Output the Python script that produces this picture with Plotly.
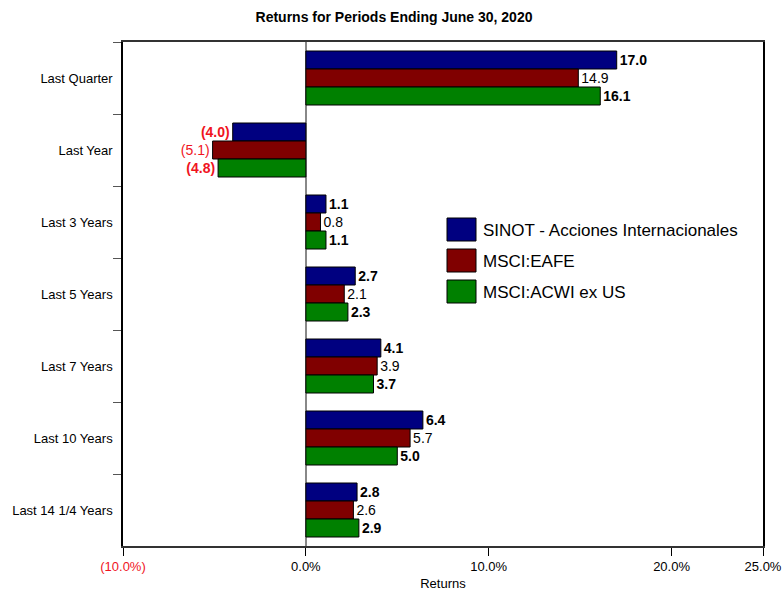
import plotly.graph_objects as go

categories = ["Last Quarter", "Last Year", "Last 3 Years", "Last 5 Years",
              "Last 7 Years", "Last 10 Years", "Last 14 1/4 Years"]
series_names = ["SINOT - Acciones Internacionales", "MSCI:EAFE", "MSCI:ACWI ex US"]
sinot = [17.0, -4.0, 1.1, 2.7, 4.1, 6.4, 2.8]
eafe = [14.9, -5.1, 0.8, 2.1, 3.9, 5.7, 2.6]
acwi = [16.1, -4.8, 1.1, 2.3, 3.7, 5.0, 2.9]
tick_vals = [-10, 0, 10, 20, 25]
tick_labels = ["(10.0%)", "0.0%", "10.0%", "20.0%", "25.0%"]

colors = ["#000080", "#800000", "#008000"]
bold = [True, False, True]
RED = "#f0141e"
FONT = "Liberation Sans, Arial, sans-serif"

def fmt(v, b):
    s = f"({abs(v):.1f})" if v < 0 else f"{v:.1f}"
    return f"<b>{s}</b>" if b else s

fig = go.Figure()
for name, vals, c, b in zip(series_names, [sinot, eafe, acwi], colors, bold):
    fig.add_trace(go.Bar(
        y=categories, x=vals, name=name, orientation="h",
        marker=dict(color=c, line=dict(color="#000000", width=1)),
        text=[fmt(v, b) for v in vals],
        textposition="outside",
        textfont=dict(family=FONT, size=14,
                      color=[RED if v < 0 else "#000000" for v in vals]),
        constraintext="none", cliponaxis=False, showlegend=False,
        hoverinfo="x+y",
    ))

# custom legend (large swatches)
L, T = 123, 42
W, H = 640, 504
def px(x): return (x - L) / W
def py(y): return (T + H - y) / H
sw_tops = [218, 249, 280]
for name, c, top in zip(series_names, colors, sw_tops):
    fig.add_shape(type="rect", xref="paper", yref="paper",
                  x0=px(447), x1=px(476), y0=py(top + 23), y1=py(top),
                  fillcolor=c, line=dict(color="#000000", width=1))
    fig.add_annotation(xref="paper", yref="paper", x=px(481), y=py(top + 12),
                       text=name, showarrow=False, xanchor="left", yanchor="middle",
                       font=dict(family=FONT, size=17, color="#000000"))

ticktext = [f'<span style="color:{RED}">{t}</span>' if v < 0 else t
            for v, t in zip(tick_vals, tick_labels)]

fig.update_layout(
    width=782, height=592,
    margin=dict(l=L, r=782 - L - W, t=T, b=592 - T - H, autoexpand=False),
    paper_bgcolor="white", plot_bgcolor="white",
    barmode="group", bargap=0.25, bargroupgap=0,
    font=dict(family=FONT, size=13, color="#000000"),
    title=dict(text="<b>Returns for Periods Ending June 30, 2020</b>",
               x=394 / 782, xref="container", xanchor="center", y=1 - 17 / 592, yanchor="middle",
               font=dict(family=FONT, size=14, color="#000000")),
    xaxis=dict(range=[-10, 25], tickvals=tick_vals, ticktext=ticktext, automargin=False,
               showgrid=False, zeroline=True, zerolinecolor="#888888", zerolinewidth=1.5,
               showline=True, linecolor="#333333", linewidth=1.5, mirror=True,
               ticks="outside", ticklen=8, tickcolor="#000000",
               tickfont=dict(family=FONT, size=13, color="#000000"),
               title=dict(text="Returns", standoff=6,
                          font=dict(family=FONT, size=13, color="#000000"))),
    yaxis=dict(autorange="reversed", showgrid=False, zeroline=False, automargin=False,
               showline=True, linecolor="#000000", linewidth=1.5, mirror=True,
               ticks="outside", ticklen=8, tickcolor="#555555", tickson="boundaries",
               ticklabelstandoff=6,
               tickfont=dict(family=FONT, size=13, color="#000000")),
)

fig.write_html("out.html", config={"displayModeBar": False},
               post_script="document.body.style.margin='0';")
